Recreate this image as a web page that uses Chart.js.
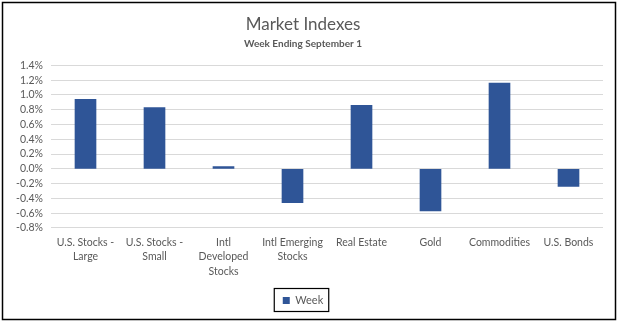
<!DOCTYPE html>
<html>
<head>
<meta charset="utf-8">
<script src="https://cdn.jsdelivr.net/npm/chart.js@4"></script>
<style>
  body { margin: 0; background: #fff; }
</style>
</head>
<body>
<canvas id="marketChart" width="619" height="324"></canvas>
<script>
// Weekly returns in percent
const categories = [
    ['U.S. Stocks -', 'Large'],
    ['U.S. Stocks -', 'Small'],
    ['Intl', 'Developed', 'Stocks'],
    ['Intl Emerging', 'Stocks'],
    'Real Estate',
    'Gold',
    'Commodities',
    'U.S. Bonds'
];
const weekReturns = [0.94, 0.83, 0.03, -0.46, 0.86, -0.57, 1.16, -0.24];
const seriesName = 'Week';
const titleText = 'Market Indexes';
const subtitleText = 'Week Ending September 1';

const fontFamily = 'Lato, "Open Sans", sans-serif';
const gray = '#595959';

// Frame around the chart and the legend box
const framePlugin = {
    id: 'frame',
    afterDraw(chart) {
        const c = chart.ctx;
        c.save();
        c.strokeStyle = '#000';
        c.lineWidth = 1.5;
        c.strokeRect(2.5, 2.5, 613, 317);
        const box = chart.legend.legendHitBoxes[0];
        if (box) {
            c.lineWidth = 1.2;
            c.strokeRect(box.left - 8.5, box.top - 6.5, box.width + 14, box.height + 12);
        }
        c.restore();
    }
};

new Chart(document.getElementById('marketChart'), {
    type: 'bar',
    data: {
        labels: categories,
        datasets: [{
            label: seriesName,
            data: weekReturns,
            backgroundColor: '#2F5597',
            barThickness: 21
        }]
    },
    options: {
        responsive: false,
        animation: false,
        layout: { padding: { left: 3, right: 16, top: 4, bottom: 8 } },
        scales: {
            y: {
                min: -0.8,
                max: 1.4,
                ticks: {
                    stepSize: 0.2,
                    autoSkip: false,
                    color: gray,
                    font: { family: fontFamily, size: 10.5 },
                    padding: 8,
                    callback: v => v.toFixed(1) + '%'
                },
                grid: { color: '#d9d9d9', lineWidth: 1, drawTicks: false },
                border: { display: false },
                afterFit: s => { s.width = 48; }
            },
            x: {
                ticks: {
                    color: gray,
                    font: { family: fontFamily, size: 10.5, lineHeight: 1.4 },
                    maxRotation: 0,
                    autoSkip: false,
                    padding: 7
                },
                grid: { display: false, drawTicks: false },
                border: { display: false }
            }
        },
        plugins: {
            title: {
                display: true,
                text: titleText,
                color: gray,
                font: { family: fontFamily, size: 17, weight: 'normal' },
                padding: { top: 10, bottom: 3 }
            },
            subtitle: {
                display: true,
                text: subtitleText,
                color: gray,
                font: { family: fontFamily, size: 10, weight: 'bold' },
                padding: { bottom: 16 }
            },
            legend: {
                position: 'bottom',
                labels: {
                    color: gray,
                    font: { family: fontFamily, size: 11 },
                    boxWidth: 7,
                    boxHeight: 7,
                    padding: 9
                }
            },
            tooltip: { enabled: false }
        }
    },
    plugins: [framePlugin]
});
</script>
</body>
</html>
